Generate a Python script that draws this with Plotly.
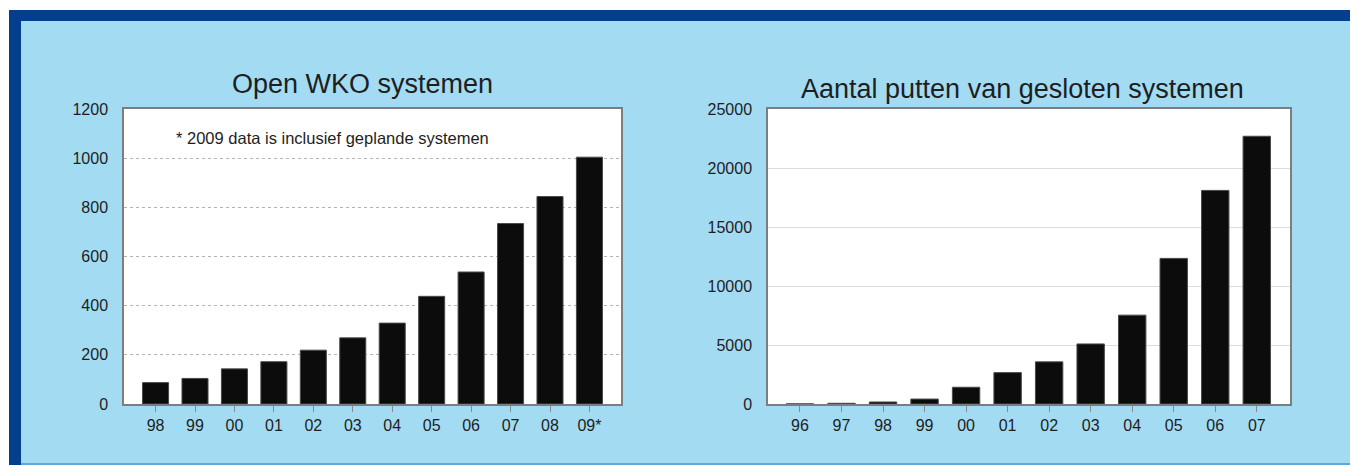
import plotly.graph_objects as go

# ---- data ----
open_years = ["98", "99", "00", "01", "02", "03", "04", "05", "06", "07", "08", "09*"]
open_values = [87, 104, 143, 172, 219, 269, 329, 438, 537, 734, 844, 1004]

closed_years = ["96", "97", "98", "99", "00", "01", "02", "03", "04", "05", "06", "07"]
closed_values = [10, 60, 170, 420, 1420, 2660, 3570, 5090, 7530, 12340, 18100, 22690]

left_title = "Open WKO systemen"
right_title = "Aantal putten van gesloten systemen"
note = "* 2009 data is inclusief geplande systemen"

left_ticks = [0, 200, 400, 600, 800, 1000, 1200]
right_ticks = [0, 5000, 10000, 15000, 20000, 25000]

# ---- layout constants ----
W, H = 1358, 465
OFF = 8  # page offset of the figure inside the browser window
FONT = "Liberation Sans, Arial, sans-serif"
LIGHT = "#A3DBF3"
DARK = "#033F8C"
BAR = "#0c0c0c"
TXT = "#1e1e1e"


def sx(x):
    """screen x (px) -> paper fraction"""
    return (x - OFF) / W


def sy(y):
    """screen y (px) -> paper fraction"""
    return (H - (y - OFF)) / H


fig = go.Figure()
fig.add_trace(go.Bar(x=open_years, y=open_values,
                     marker=dict(color=BAR, line=dict(color="#4a4a4a", width=1)),
                     xaxis="x", yaxis="y", showlegend=False, hoverinfo="x+y"))
fig.add_trace(go.Bar(x=closed_years, y=closed_values,
                     marker=dict(color=BAR, line=dict(color="#4a4a4a", width=1)),
                     xaxis="x2", yaxis="y2", showlegend=False, hoverinfo="x+y"))

axis_common = dict(showline=True, mirror=True, linecolor="#7d7d7d", linewidth=1.5,
                   tickfont=dict(family=FONT, size=16, color=TXT), zeroline=False,
                   automargin=False)
xcommon = dict(type="category", ticks="outside", ticklen=6, tickcolor="#8a8a8a",
               tickwidth=1, showgrid=False, ticklabelstandoff=0, **axis_common)
ycommon = dict(ticks="", showgrid=True, gridwidth=1, ticklabelstandoff=11,
               tickformat="d", **axis_common)

fig.update_layout(
    template="none",
    width=W, height=H,
    margin=dict(l=0, r=0, t=0, b=0, autoexpand=False),
    paper_bgcolor=LIGHT,
    plot_bgcolor="white",
    bargap=0.34,
    showlegend=False,
    font=dict(family=FONT, color=TXT),
    xaxis=dict(domain=[sx(124), sx(621)], anchor="y", range=[-0.8, 11.8], **xcommon),
    yaxis=dict(domain=[sy(404), sy(109)], anchor="x", range=[0, 1200], tickvals=left_ticks,
               gridcolor="#b3b3b3", griddash="dot", **ycommon),
    xaxis2=dict(domain=[sx(768), sx(1290)], anchor="y2", range=[-0.77, 11.8], **xcommon),
    yaxis2=dict(domain=[sy(404), sy(109)], anchor="x2", range=[0, 25000], tickvals=right_ticks,
                gridcolor="#dcdcdc", **ycommon),
)

# frame: white strips, dark blue border, bottom line
shapes = [
    dict(type="rect", xref="paper", yref="paper", x0=0, x1=1, y0=sy(10), y1=1,
         fillcolor="white", line=dict(width=0), layer="below"),
    dict(type="rect", xref="paper", yref="paper", x0=0, x1=sx(9), y0=0, y1=1,
         fillcolor="white", line=dict(width=0), layer="below"),
    dict(type="rect", xref="paper", yref="paper", x0=sx(9), x1=1, y0=sy(21), y1=sy(10),
         fillcolor=DARK, line=dict(width=0), layer="below"),
    dict(type="rect", xref="paper", yref="paper", x0=sx(9), x1=sx(21), y0=0, y1=sy(10),
         fillcolor=DARK, line=dict(width=0), layer="below"),
    dict(type="rect", xref="paper", yref="paper", x0=sx(21), x1=1, y0=sy(465), y1=sy(463),
         fillcolor="#5FA8DC", line=dict(width=0), layer="below"),
]
fig.update_layout(shapes=shapes)

fig.add_annotation(text=left_title, xref="paper", yref="paper", x=sx(362), y=sy(84),
                   showarrow=False, font=dict(family=FONT, size=27, color=TXT),
                   xanchor="center", yanchor="middle")
fig.add_annotation(text=right_title, xref="paper", yref="paper", x=sx(1022), y=sy(89),
                   showarrow=False, font=dict(family=FONT, size=27, color=TXT),
                   xanchor="center", yanchor="middle")
fig.add_annotation(text=note, xref="paper", yref="paper", x=sx(332), y=sy(138),
                   showarrow=False, font=dict(family=FONT, size=16.5, color=TXT),
                   xanchor="center", yanchor="middle")

fig.write_html("out.html")
